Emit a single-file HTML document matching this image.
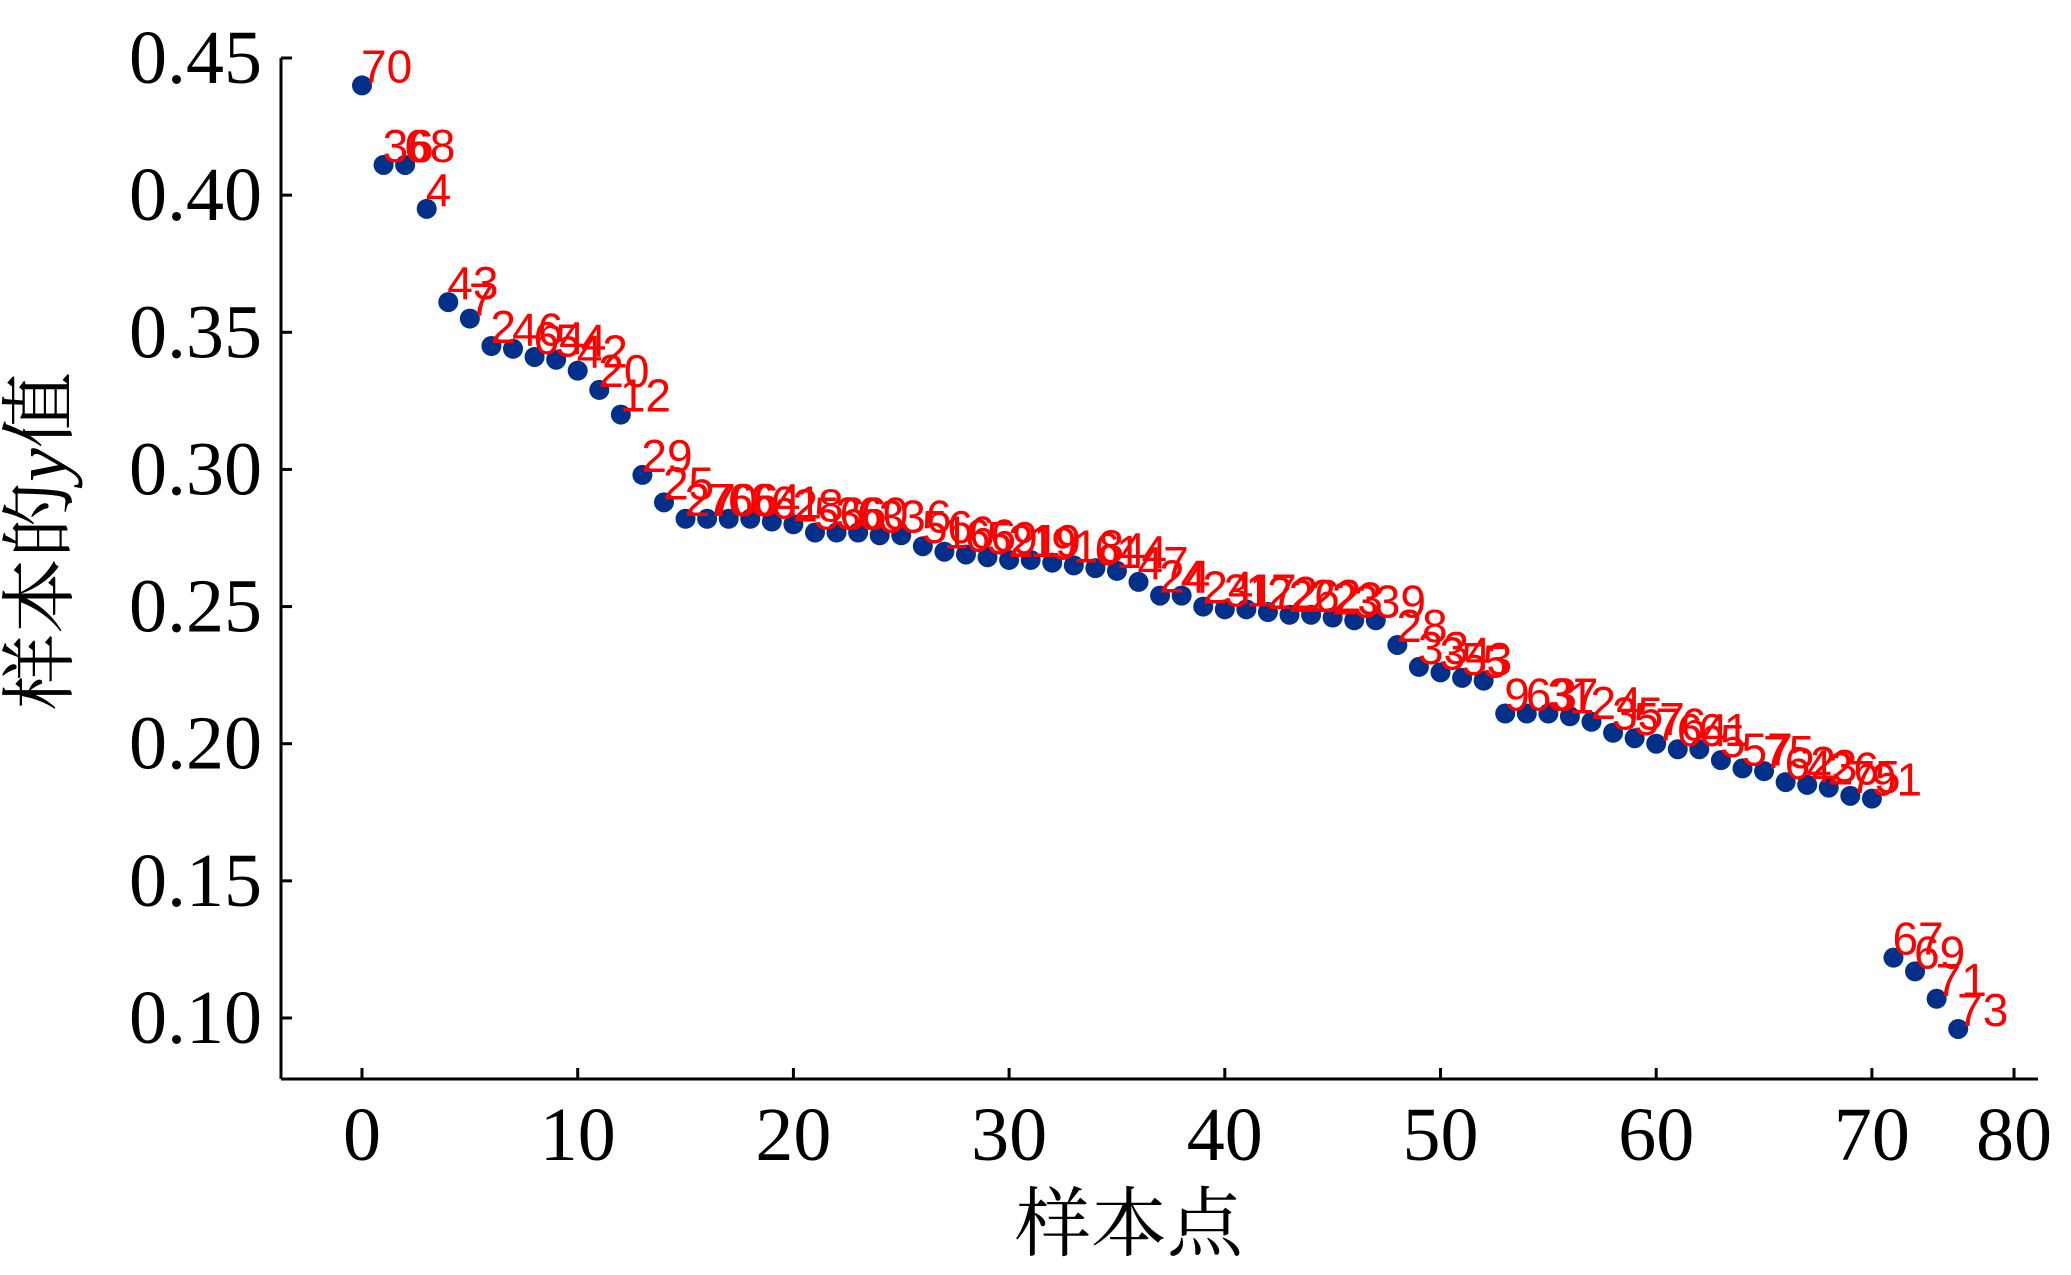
<!DOCTYPE html>
<html><head><meta charset="utf-8"><style>
body{margin:0;background:#fff}
svg{display:block}
</style></head><body>
<svg width="2071" height="1275" viewBox="0 0 2071 1275" xmlns="http://www.w3.org/2000/svg">
<g id="axes"></g>
<g id="marks"></g>
<text x="66" y="541" transform="rotate(-90 66 541)" text-anchor="middle" font-family="Liberation Serif, 'Noto Serif CJK SC', serif" font-size="76" fill="#000">样本的<tspan font-style="italic">y</tspan>值</text>
<text x="1129" y="1250" text-anchor="middle" font-family="Liberation Serif, 'Noto Serif CJK SC', serif" font-size="76" fill="#000">样本点</text>
</svg>
<script>
const values=[0.440,0.411,0.411,0.395,0.361,0.355,0.345,0.344,0.341,0.340,0.336,0.329,0.320,0.298,0.288,0.282,0.282,0.282,0.282,0.281,0.280,0.277,0.277,0.277,0.276,0.276,0.272,0.270,0.269,0.268,0.267,0.267,0.266,0.265,0.264,0.263,0.259,0.254,0.254,0.250,0.249,0.249,0.248,0.247,0.247,0.246,0.245,0.245,0.236,0.228,0.226,0.224,0.223,0.211,0.211,0.211,0.210,0.208,0.204,0.202,0.200,0.198,0.198,0.194,0.191,0.190,0.186,0.185,0.184,0.181,0.180,0.122,0.117,0.107,0.096];
const labels=["70","36","68","4","43","7","2","46","64","54","42","20","12","29","25","27","70","66","64","61","28","56","36","60","3","36","56","16","66","59","21","19","9","18","64","14","47","24","4","24","31","17","22","26","22","23","3","39","28","33","34","53","5","9","63","37","1","24","35","57","76","64","61","5","57","75","62","43","26","75","91","67","69","71","73"];
const xTicks=[0,10,20,30,40,50,60,70,80];
const yTicks=[0.10,0.15,0.20,0.25,0.30,0.35,0.40,0.45];
const NS="http://www.w3.org/2000/svg";
const X=v=>362+v*21.57;
const Y=v=>58+(0.45-v)/0.35*(1018-58);
const axes=document.getElementById('axes'),marks=document.getElementById('marks');
function mk(tag,attrs,parent){const e=document.createElementNS(NS,tag);for(const k in attrs)e.setAttribute(k,attrs[k]);parent.appendChild(e);return e;}
let l=mk('line',{x1:281,y1:58,x2:281,y2:1079,stroke:'#000','stroke-width':3},axes);


l=mk('line',{x1:281,y1:1079,x2:2038,y2:1079,stroke:'#000','stroke-width':3},axes);


yTicks.forEach(t=>{
 const y=Y(t);
 mk('line',{x1:281,y1:y,x2:292,y2:y,stroke:'#000','stroke-width':3},axes);
 const tx=mk('text',{x:262,y:y+25,'text-anchor':'end','font-family':'Liberation Serif, serif','font-size':76,fill:'#000'},axes);
 tx.textContent=t.toFixed(2);
 
 
});
xTicks.forEach(t=>{
 const x=Math.min(X(t),2014);
 mk('line',{x1:x,y1:1079,x2:x,y2:1068,stroke:'#000','stroke-width':3},axes);
 const tx=mk('text',{x:x,y:1160,'text-anchor':'middle','font-family':'Liberation Serif, serif','font-size':76,fill:'#000'},axes);
 tx.textContent=t;
 
 
});
values.forEach((v,i)=>{
 const c=mk('circle',{cx:X(i),cy:Y(v),r:10,fill:'#00308a'},marks);
 
 
});
values.forEach((v,i)=>{
 const t=mk('text',{x:X(i)-1,y:Y(v)-3,'font-family':'Liberation Sans, sans-serif','font-size':46,fill:'#ff0000'},marks);
 t.textContent=labels[i];
 
 
});
</script>
</body></html>
